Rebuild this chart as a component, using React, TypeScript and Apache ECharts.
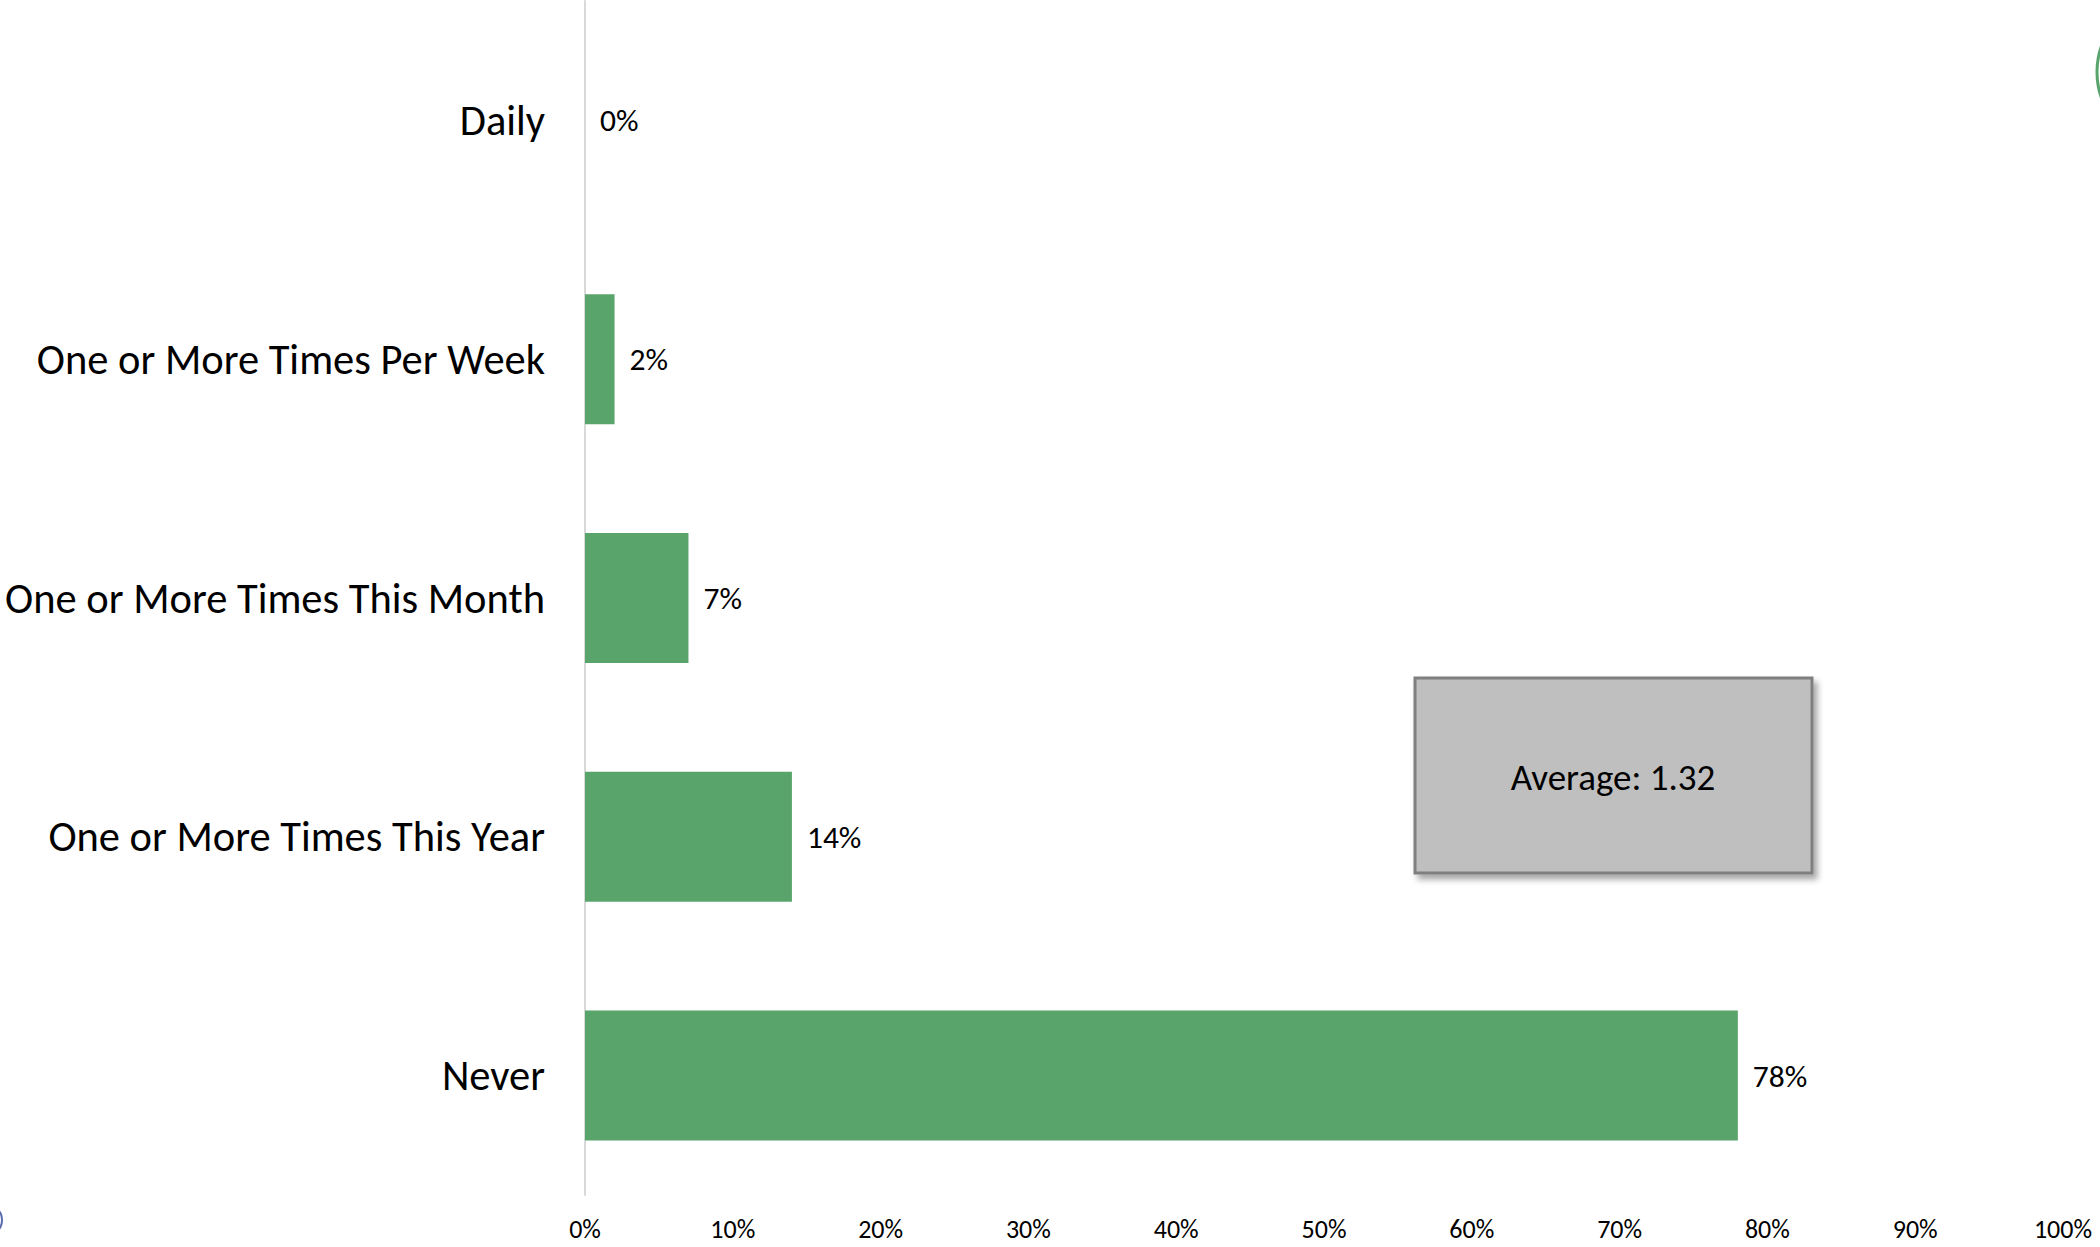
import React, { useEffect, useRef } from "react";
import * as echarts from "echarts";

const categories = [
  "Daily",
  "One or More Times Per Week",
  "One or More Times This Month",
  "One or More Times This Year",
  "Never",
];
const shares = [0, 0.02, 0.07, 0.14, 0.78];
const averageText = "Average: 1.32";
const FONT = "Carlito, Calibri, Lato, sans-serif";

export default function App() {
  const ref = useRef<HTMLDivElement>(null);
  useEffect(() => {
    if (!ref.current) return;
    const chart = echarts.init(ref.current, undefined, { renderer: "svg" });
    chart.setOption({
      animation: false,
      backgroundColor: "#ffffff",
      grid: { left: 585, top: 1, width: 1478, height: 1194, containLabel: false },
      xAxis: {
        type: "value",
        min: 0,
        max: 1,
        interval: 0.1,
        axisLine: { show: false },
        axisTick: { show: false },
        splitLine: { show: false },
        axisLabel: {
          margin: 21,
          fontFamily: FONT,
          fontSize: 26,
          color: "#000000",
          formatter: (v: number) => Math.round(v * 100) + "%",
        },
      },
      yAxis: {
        type: "category",
        inverse: true,
        data: categories,
        axisLine: { show: true, lineStyle: { color: "#d9d9d9", width: 2 } },
        axisTick: { show: false },
        axisLabel: {
          margin: 40,
          fontFamily: FONT,
          fontSize: 42.5,
          color: "#000000",
        },
      },
      series: [
        {
          type: "bar",
          data: shares,
          barWidth: 130,
          itemStyle: { color: "#58A46B" },
          label: {
            show: true,
            position: "right",
            distance: 15,
            fontFamily: FONT,
            fontSize: 31.5,
            color: "#000000",
            formatter: (p: any) => Math.round(p.value * 100) + "%",
          },
        },
      ],
      graphic: [
        {
          type: "rect",
          shape: { x: 1415, y: 678, width: 397, height: 195 },
          style: {
            fill: "#bfbfbf",
            stroke: "#7f7f7f",
            lineWidth: 3,
            shadowBlur: 6,
            shadowOffsetX: 4,
            shadowOffsetY: 5,
            shadowColor: "rgba(0,0,0,0.35)",
          },
        },
        {
          type: "text",
          x: 1613,
          y: 777,
          style: {
            text: averageText,
            fontFamily: FONT,
            fontSize: 37,
            fill: "#000000",
            align: "center",
            verticalAlign: "middle",
          },
        },
        {
          type: "circle",
          shape: { cx: 2175, cy: 72, r: 78 },
          style: { fill: "none", stroke: "#58A46B", lineWidth: 3 },
        },
        {
          type: "circle",
          shape: { cx: -13, cy: 1220, r: 15 },
          style: { fill: "none", stroke: "#5b6bb0", lineWidth: 2 },
        },
      ],
    });
    return () => chart.dispose();
  }, []);
  return (
    <div
      ref={ref}
      style={{ position: "absolute", left: 0, top: 0, width: 2100, height: 1247 }}
    />
  );
}
